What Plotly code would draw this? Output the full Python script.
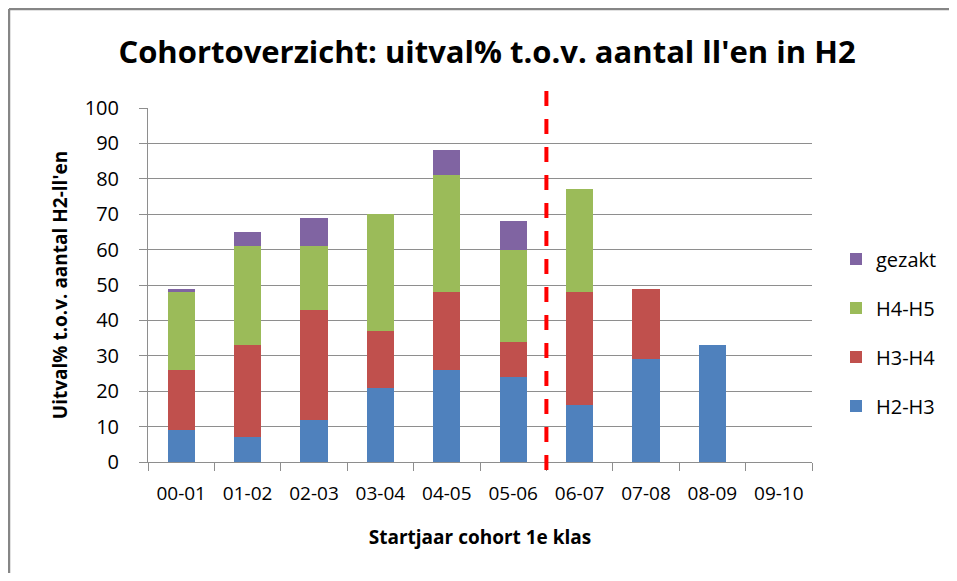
import plotly.graph_objects as go

categories = ["00-01", "01-02", "02-03", "03-04", "04-05", "05-06", "06-07", "07-08", "08-09", "09-10"]
h2_h3 = [9, 7, 12, 21, 26, 24, 16, 29, 33, 0]
h3_h4 = [17, 26, 31, 16, 22, 10, 32, 20, 0, 0]
h4_h5 = [22, 28, 18, 33, 33, 26, 29, 0, 0, 0]
gezakt = [1, 4, 8, 0, 7, 8, 0, 0, 0, 0]
y_ticks = list(range(0, 101, 10))

series = [
    ("H2-H3", h2_h3, "#4F81BD", 4),
    ("H3-H4", h3_h4, "#C0504D", 3),
    ("H4-H5", h4_h5, "#9BBB59", 2),
    ("gezakt", gezakt, "#8064A2", 1),
]

W, H = 941, 565
ml, mt = 140, 100
pw, ph = 664, 354
mr, mb = W - ml - pw, H - mt - ph

fig = go.Figure()
for name, vals, col, rank in series:
    fig.add_trace(go.Bar(x=categories, y=vals, name=name, legendgroup=name, legendrank=rank,
                         marker=dict(color=col, line=dict(width=0))))

FONT = "Open Sans, sans-serif"
GRID = "#8E8E8E"

fig.update_layout(
    width=W, height=H,
    barmode="stack", bargap=0.59,
    margin=dict(l=ml, r=mr, t=mt, b=mb, autoexpand=False),
    paper_bgcolor="white", plot_bgcolor="white",
    font=dict(family=FONT, color="#000000", size=18),
    title=dict(text="<b>Cohortoverzicht: uitval% t.o.v. aantal ll'en in H2</b>",
               x=479 / W, xanchor="center", y=1 - 44 / H, yanchor="middle",
               font=dict(size=31, family=FONT)),
    xaxis=dict(type="category", showgrid=False, showline=True, linecolor=GRID, linewidth=1,
               ticks="outside", tickson="boundaries", ticklen=8, tickcolor=GRID,
               ticklabelstandoff=14,
               tickfont=dict(size=19), title=dict(text="<b>Startjaar cohort 1e klas</b>", font=dict(size=19), standoff=25)),
    yaxis=dict(range=[0, 100], tickvals=y_ticks, showgrid=True, gridcolor=GRID, gridwidth=1,
               showline=True, linecolor=GRID, ticks="outside", ticklen=8, tickcolor=GRID,
               ticklabelstandoff=16,
               tickfont=dict(size=20), zeroline=False,
               title=dict(text="<b>Uitval% t.o.v. aantal H2-ll'en</b>", font=dict(size=19), standoff=12)),
    legend=dict(traceorder="grouped", x=(828 - ml) / pw, xanchor="left",
                y=1 - (324.5 - mt) / ph, yanchor="middle",
                font=dict(size=20), itemwidth=30, tracegroupgap=20, bgcolor="rgba(0,0,0,0)"),
    showlegend=True,
)

# divider line between 05-06 and 06-07
fig.add_shape(type="line", xref="x", yref="paper", x0=5.5, x1=5.5,
              y0=-(462 - mt - ph) / ph, y1=1 + (mt - 82) / ph,
              line=dict(color="#FF0000", width=4, dash="15px,13px"))

# outer chart border (top and left edges visible in the frame)
top_y = 1 + (mt - 1) / ph
left_x = (1 - ml) / pw
fig.add_shape(type="line", xref="paper", yref="paper", x0=left_x, x1=(W - ml) / pw, y0=top_y, y1=top_y,
              line=dict(color="#868686", width=2.5), layer="below")
fig.add_shape(type="line", xref="paper", yref="paper", x0=left_x, x1=left_x, y0=-(H - mt - ph) / ph, y1=top_y,
              line=dict(color="#868686", width=2.5), layer="below")

fig.write_html("out.html")
